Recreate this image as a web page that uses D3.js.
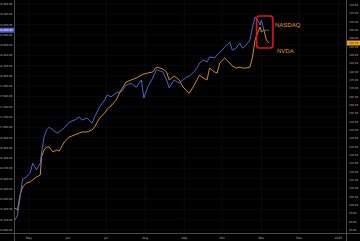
<!DOCTYPE html>
<html>
<head>
<meta charset="utf-8">
<script src="https://cdn.jsdelivr.net/npm/d3@7"></script>
<style>
  body { margin: 0; background: #000; }
  svg { display: block; }
</style>
</head>
<body>
<div></div>
<script>
// data (2024, NASDAQ left axis, NVDA right axis)
var dates = ["2024-04-20","2024-04-22","2024-04-24","2024-04-26","2024-04-29","2024-05-02","2024-05-04","2024-05-07","2024-05-10","2024-05-11",
  "2024-05-13","2024-05-15","2024-05-17","2024-05-20","2024-05-23","2024-05-25","2024-05-29","2024-06-02","2024-06-06","2024-06-10",
  "2024-06-12","2024-06-16","2024-06-20","2024-06-22","2024-06-26","2024-06-30","2024-07-02","2024-07-05","2024-07-09","2024-07-13",
  "2024-07-17","2024-07-21","2024-07-25","2024-07-29","2024-07-31","2024-08-03","2024-08-07","2024-08-10","2024-08-15","2024-08-18",
  "2024-08-20","2024-08-24","2024-08-28","2024-08-31","2024-09-03","2024-09-05","2024-09-08","2024-09-11","2024-09-13","2024-09-16",
  "2024-09-19","2024-09-21","2024-09-25","2024-09-27","2024-09-29","2024-10-03","2024-10-07","2024-10-09","2024-10-12","2024-10-15",
  "2024-10-17","2024-10-20","2024-10-23","2024-10-25","2024-10-27","2024-10-29","2024-10-31","2024-11-01","2024-11-03","2024-11-05","2024-11-07"];

var nasdaq = [15195,15290,15640,15990,16030,16110,16300,16170,16300,16500,
  16810,16950,17000,16950,16890,16910,16990,17100,17140,17200,
  17140,17180,17080,17200,17400,17530,17630,17590,17670,17690,
  17820,17860,17780,17920,17570,17780,17960,18120,18080,17920,
  17770,17920,17860,17920,17980,18000,18060,18150,18250,18310,
  18270,18370,18350,18410,18450,18560,18660,18500,18540,18640,
  18540,18600,18700,18950,19150,19090,18990,19090,18890,18890,18890];

var nvda = [98.2,97.0,106.0,110.8,113.2,113.8,115.0,116.8,118.0,128.8,
  133.0,134.8,134.8,131.8,133.0,132.4,137.8,140.8,142.0,143.2,
  143.8,143.8,145.0,146.8,152.2,155.2,157.6,159.4,163.0,169.0,
  173.8,175.0,176.2,178.0,178.6,179.2,179.8,182.8,181.6,179.8,
  175.0,177.4,175.0,170.8,168.4,167.2,170.8,175.0,178.0,176.2,
  175.0,182.2,179.8,179.2,185.2,188.2,185.2,183.4,182.2,182.8,
  182.2,182.2,182.8,188.8,199.0,203.2,206.8,203.8,205.0,199.0,197.2];

var leftTicks = d3.range(15000, 19401, 200);
var rightTicks = d3.range(85, 221, 5);
var monthTicks = ["2024-05-01","2024-06-01","2024-07-01","2024-08-01","2024-09-01","2024-10-01","2024-11-01","2024-12-01","2025-01-01"];
var monthLabels = ["May","Jun","Jul","Aug","Sep","Oct","Nov","Dec","2025"];

var width = 360,
    height = 241,
    left = 14,
    right = 346,
    bottom = 233;

var parse = d3.timeParse("%Y-%m-%d");

var svg = d3.select("div").append("svg")
                        .attr("width", width)
                        .attr("height", height)
                        .style("background", "#000");

var x = d3.scaleTime().domain([parse("2024-04-20"), parse("2025-01-07")]).range([15, right]);
var yL = d3.scaleLinear().domain([15000, 19400]).range([230, 4]);
var yR = d3.scaleLinear().domain([85, 220]).range([230, 5]);

// grid
leftTicks.forEach(function (d) {
  svg.append("line").attr("x1", left).attr("x2", right).attr("y1", yL(d)).attr("y2", yL(d))
    .attr("stroke", "#141414").attr("stroke-width", 0.5);
});
monthTicks.forEach(function (d) {
  svg.append("line").attr("x1", x(parse(d))).attr("x2", x(parse(d))).attr("y1", 0).attr("y2", bottom)
    .attr("stroke", "#161616").attr("stroke-width", 0.5);
});

// axis borders
svg.append("line").attr("x1", left + 0.5).attr("x2", left + 0.5).attr("y1", 0).attr("y2", height).attr("stroke", "#5a5a5a").attr("stroke-width", 0.8);
svg.append("line").attr("x1", right + 0.5).attr("x2", right + 0.5).attr("y1", 0).attr("y2", height).attr("stroke", "#5a5a5a").attr("stroke-width", 0.8);
svg.append("line").attr("x1", 0).attr("x2", width).attr("y1", bottom + 0.5).attr("y2", bottom + 0.5).attr("stroke", "#5a5a5a").attr("stroke-width", 0.8);

var fmtL = d3.format(",.2f"), fmtR = d3.format(".2f");

leftTicks.forEach(function (d) {
  svg.append("text").attr("x", 12.5).attr("y", yL(d) + 1).attr("text-anchor", "end")
    .attr("font-family", "DejaVu Sans").attr("font-size", 2.6).attr("fill", "#bbb").text(fmtL(d));
});
rightTicks.forEach(function (d) {
  svg.append("text").attr("x", 349).attr("y", yR(d) + 1).attr("font-family", "DejaVu Sans")
    .attr("font-size", 2.6).attr("fill", "#bbb").text(fmtR(d));
});
monthTicks.forEach(function (d, i) {
  svg.append("text").attr("x", x(parse(d))).attr("y", 238.5).attr("text-anchor", "middle")
    .attr("font-family", "DejaVu Sans").attr("font-size", 3).attr("fill", "#bbb").text(monthLabels[i]);
});

// lines
var pts = dates.map(function (d, i) { return { date: parse(d), a: nasdaq[i], b: nvda[i] }; });

svg.append("path").datum(pts)
  .attr("d", d3.line().x(function (d) { return x(d.date); }).y(function (d) { return yR(d.b); }))
  .attr("fill", "none").attr("stroke", "#e9992b").attr("stroke-width", 0.9);

svg.append("path").datum(pts)
  .attr("d", d3.line().x(function (d) { return x(d.date); }).y(function (d) { return yL(d.a); }))
  .attr("fill", "none").attr("stroke", "#5a6ce0").attr("stroke-width", 0.9);

// last value badges
var lastA = nasdaq[nasdaq.length - 1], lastB = nvda[nvda.length - 1];
svg.append("rect").attr("x", 0).attr("y", yL(lastA) - 2.5).attr("width", left).attr("height", 5).attr("fill", "#4e62d8");
svg.append("text").attr("x", 12.5).attr("y", yL(lastA) + 1).attr("text-anchor", "end")
  .attr("font-family", "DejaVu Sans").attr("font-size", 2.6).attr("fill", "#fff").text(fmtL(lastA));
svg.append("rect").attr("x", right + 1).attr("y", yR(lastB) - 2.5).attr("width", width - right - 1).attr("height", 5).attr("fill", "#f2a21e");
svg.append("text").attr("x", 349).attr("y", yR(lastB) + 1)
  .attr("font-family", "DejaVu Sans").attr("font-size", 2.6).attr("fill", "#222").text(fmtR(lastB));

// red highlight box around the last days
var x0 = x(parse("2024-10-29")) - 1, x1 = x(parse("2024-11-07")) + 4;
svg.append("rect").attr("x", x0).attr("y", 16).attr("width", x1 - x0).attr("height", 32).attr("rx", 3)
  .attr("fill", "none").attr("stroke", "#e3141b").attr("stroke-width", 1.6);

svg.append("text").attr("x", 275).attr("y", 26.5).attr("font-family", "Liberation Sans").attr("font-size", 6)
  .attr("fill", "#e89a35").text("NASDAQ");
svg.append("text").attr("x", 277).attr("y", 52.5).attr("font-family", "Liberation Sans").attr("font-size", 6)
  .attr("fill", "#e89a35").text("NVDA");
</script>
</body>
</html>
